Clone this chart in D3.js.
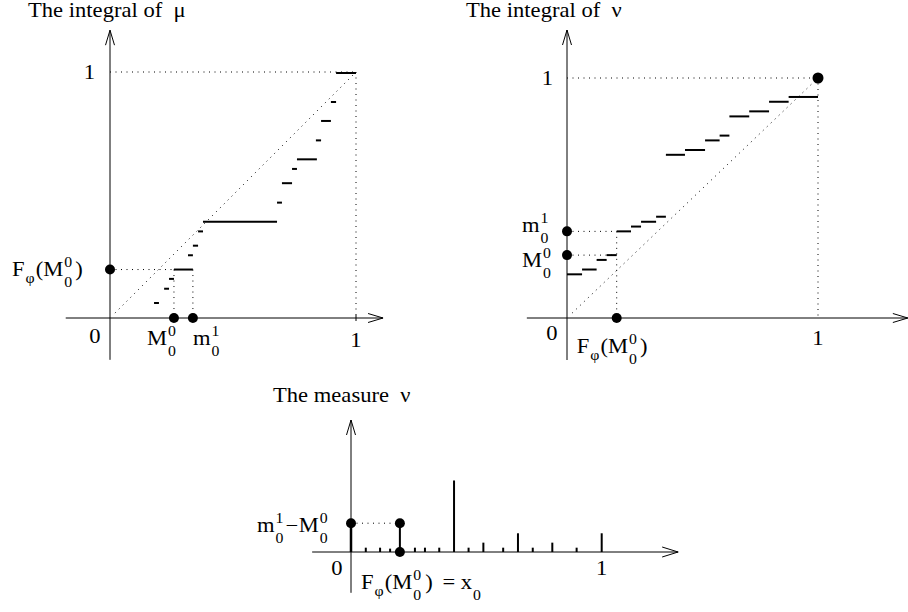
<!DOCTYPE html>
<html>
<head>
<meta charset="utf-8">
<script src="https://cdn.jsdelivr.net/npm/d3@7"></script>
<style>
  body { margin: 0; background: #fff; }
  text { font-family: "Liberation Serif", "Times New Roman", serif; fill: #000; }
  .lbl { font-size: 20px; }
  .scr { font-size: 14px; }
</style>
</head>
<body>
<svg id="fig" width="908" height="612"></svg>
<script>
// integral of mu: horizontal pieces [x0, x1, y]
const muSteps = [
    [0.179, 0.199, 0.061], [0.220, 0.240, 0.119], [0.240, 0.260, 0.159],
    [0.260, 0.337, 0.197], [0.317, 0.337, 0.255], [0.337, 0.358, 0.294],
    [0.358, 0.378, 0.352], [0.378, 0.679, 0.391], [0.679, 0.699, 0.469],
    [0.699, 0.740, 0.548], [0.740, 0.760, 0.606], [0.760, 0.841, 0.645],
    [0.837, 0.858, 0.722], [0.858, 0.898, 0.801], [0.898, 0.919, 0.878],
    [0.919, 1.000, 0.996]
];
const muMarks = { M00: 0.260, m01: 0.337, F: 0.197 };

// integral of nu: horizontal pieces [x0, x1, y]
const nuSteps = [
    [0.000, 0.060, 0.182], [0.060, 0.118, 0.202], [0.118, 0.158, 0.242],
    [0.158, 0.198, 0.262], [0.198, 0.255, 0.361], [0.255, 0.295, 0.381],
    [0.295, 0.355, 0.401], [0.355, 0.394, 0.422], [0.394, 0.470, 0.680],
    [0.470, 0.550, 0.700], [0.550, 0.608, 0.740], [0.608, 0.647, 0.760],
    [0.647, 0.726, 0.840], [0.726, 0.805, 0.861], [0.805, 0.883, 0.901],
    [0.883, 1.000, 0.921]
];
const nuMarks = { F: 0.198, M00: 0.262, m01: 0.361 };

// the measure nu: atoms [x, mass]
const nuAtoms = [
    [0.059, 0.018], [0.116, 0.018], [0.156, 0.014], [0.255, 0.018],
    [0.295, 0.018], [0.352, 0.018], [0.411, 0.298], [0.469, 0.018],
    [0.528, 0.039], [0.607, 0.018], [0.666, 0.078], [0.725, 0.018],
    [0.803, 0.039], [0.900, 0.018], [1.000, 0.078]
];
const x0 = 0.195;
const jump = 0.12; // m01 - M00

const SX = 1.13; // the figure's lettering is a bit wider than Times

const svg = d3.select("#fig");

function axisArrow(g, x1, y1, x2, y2, len, half) {
    g.append("line").attr("x1", x1).attr("y1", y1).attr("x2", x2).attr("y2", y2)
        .attr("stroke", "#000").attr("stroke-width", 1);
    const a = Math.atan2(y2 - y1, x2 - x1);
    const bx = x2 - len * Math.cos(a), by = y2 - len * Math.sin(a);
    const px = -Math.sin(a) * half, py = Math.cos(a) * half;
    g.append("polyline")
        .attr("points", [[bx + px, by + py], [x2, y2], [bx - px, by - py]].map(p => p.join(",")).join(" "))
        .attr("fill", "none").attr("stroke", "#000").attr("stroke-width", 1);
}

function dotted(g, x1, y1, x2, y2) {
    g.append("line").attr("x1", x1).attr("y1", y1).attr("x2", x2).attr("y2", y2)
        .attr("stroke", "#000").attr("stroke-width", 1).attr("stroke-dasharray", "1,4.5");
}

function dot(g, x, y) {
    g.append("circle").attr("cx", x).attr("cy", y).attr("r", 5).attr("fill", "#000");
}

function txt(g, x, y, s, cls, anchor) {
    return g.append("text").attr("class", cls || "lbl")
        .attr("transform", "translate(" + x + "," + y + ") scale(" + SX + ",1)")
        .attr("text-anchor", anchor || "start").attr("xml:space", "preserve").text(s);
}

// base glyphs with stacked sub / superscripts, advanced by measured widths
function mathLabel(g, x, y, parts) {
    let cx = x;
    parts.forEach(p => {
        cx += p.dx || 0;
        const t = txt(g, cx, y, p.t);
        cx += t.node().getComputedTextLength() * SX;
        let w = 0;
        if (p.sup) {
            const s = txt(g, cx + 1, y - 9, p.sup, "scr");
            w = Math.max(w, s.node().getComputedTextLength() * SX + 1);
        }
        if (p.sub) {
            const s = txt(g, cx + 1, y + (p.subDy || 11), p.sub, "scr");
            w = Math.max(w, s.node().getComputedTextLength() * SX + 1);
        }
        cx += w;
    });
}

const Fphi = [{ t: "F", sub: "φ", subDy: 7 }, { t: "(", dx: 1 }, { t: "M", sub: "0", sup: "0" }, { t: ")", dx: 3 }];

// ---------- The integral of mu ----------
const gA = svg.append("g");
const ax = d3.scaleLinear().domain([0, 1]).range([110, 356]);
const ay = d3.scaleLinear().domain([0, 1]).range([318, 72]);

txt(gA, 28, 17, "The integral of  μ");

dotted(gA, ax(0), ay(1), ax(1), ay(1));
dotted(gA, ax(1), ay(1), ax(1), ay(0));
dotted(gA, ax(0.02), ay(0.02), ax(1), ay(1));
dotted(gA, ax(0), ay(muMarks.F), ax(muMarks.M00), ay(muMarks.F));
dotted(gA, ax(muMarks.M00), ay(muMarks.F), ax(muMarks.M00), ay(0));
dotted(gA, ax(muMarks.m01), ay(muMarks.F), ax(muMarks.m01), ay(0));

axisArrow(gA, ax(-0.18), ay(0), ax(1.11), ay(0), 15, 4.5);
axisArrow(gA, ax(0), ay(-0.17), ax(0), ay(1.17), 15, 4.5);
gA.append("line").attr("x1", ax(1)).attr("x2", ax(1)).attr("y1", ay(0) - 3).attr("y2", ay(0) + 3)
    .attr("stroke", "#000");

gA.selectAll(".step").data(muSteps).join("line").attr("class", "step")
    .attr("x1", d => ax(d[0])).attr("x2", d => ax(d[1]))
    .attr("y1", d => ay(d[2])).attr("y2", d => ay(d[2]))
    .attr("stroke", "#000").attr("stroke-width", 2);

dot(gA, ax(0), ay(muMarks.F));
dot(gA, ax(muMarks.M00), ay(0));
dot(gA, ax(muMarks.m01), ay(0));

txt(gA, ax(0) - 15, ay(0) + 25, "0", "lbl", "middle");
txt(gA, ax(1), ay(0) + 29, "1", "lbl", "middle");
txt(gA, ax(0) - 15, ay(1) + 7, "1", "lbl", "end");
mathLabel(gA, 12, ay(muMarks.F) + 6, Fphi);
mathLabel(gA, ax(muMarks.M00) - 27, ay(0) + 27, [{ t: "M", sub: "0", sup: "0" }]);
mathLabel(gA, ax(muMarks.m01), ay(0) + 27, [{ t: "m", sub: "0", sup: "1" }]);

// ---------- The integral of nu ----------
const gB = svg.append("g");
const bx = d3.scaleLinear().domain([0, 1]).range([567, 818]);
const by = d3.scaleLinear().domain([0, 1]).range([318, 78]);

txt(gB, 466, 17, "The integral of  ν");

dotted(gB, bx(0), by(1), bx(1), by(1));
dotted(gB, bx(1), by(1), bx(1), by(0));
dotted(gB, bx(0.02), by(0.02), bx(1), by(1));
dotted(gB, bx(0), by(nuMarks.m01), bx(nuMarks.F), by(nuMarks.m01));
dotted(gB, bx(0), by(nuMarks.M00), bx(nuMarks.F), by(nuMarks.M00));
dotted(gB, bx(nuMarks.F), by(nuMarks.m01), bx(nuMarks.F), by(0));

axisArrow(gB, bx(-0.16), by(0), bx(1.358), by(0), 15, 4.5);
axisArrow(gB, bx(0), by(-0.175), bx(0), by(1.2), 15, 4.5);

gB.selectAll(".step").data(nuSteps).join("line").attr("class", "step")
    .attr("x1", d => bx(d[0])).attr("x2", d => bx(d[1]))
    .attr("y1", d => by(d[2])).attr("y2", d => by(d[2]))
    .attr("stroke", "#000").attr("stroke-width", 2);

dot(gB, bx(0), by(nuMarks.m01));
dot(gB, bx(0), by(nuMarks.M00));
dot(gB, bx(nuMarks.F), by(0));
gB.append("circle").attr("cx", bx(1)).attr("cy", by(1)).attr("r", 5.5).attr("fill", "#000");

txt(gB, bx(0) - 15, by(0) + 22, "0", "lbl", "middle");
txt(gB, bx(1), by(0) + 27, "1", "lbl", "middle");
txt(gB, bx(0) - 14, by(1) + 7, "1", "lbl", "end");
mathLabel(gB, 522, by(nuMarks.m01) + 1, [{ t: "m", sub: "0", sup: "1" }]);
mathLabel(gB, 522, by(nuMarks.M00) + 12, [{ t: "M", sub: "0", sup: "0" }]);
mathLabel(gB, bx(nuMarks.F) - 40, by(0) + 35, Fphi);

// ---------- The measure nu ----------
const gC = svg.append("g");
const cx = d3.scaleLinear().domain([0, 1]).range([351, 601.7]);
const cy = d3.scaleLinear().domain([0, 1]).range([552, 312]);

txt(gC, 273, 402, "The measure  ν");

axisArrow(gC, cx(-0.155), cy(0), cx(1.305), cy(0), 16, 5);
axisArrow(gC, cx(0), cy(-0.17), cx(0), cy(0.55), 15, 4.5);

gC.selectAll(".atom").data(nuAtoms).join("line").attr("class", "atom")
    .attr("x1", d => cx(d[0])).attr("x2", d => cx(d[0]))
    .attr("y1", cy(0)).attr("y2", d => cy(d[1]))
    .attr("stroke", "#000").attr("stroke-width", 2);

gC.append("line").attr("x1", cx(0)).attr("x2", cx(0)).attr("y1", cy(0)).attr("y2", cy(jump))
    .attr("stroke", "#000").attr("stroke-width", 2.5);
gC.append("line").attr("x1", cx(x0)).attr("x2", cx(x0)).attr("y1", cy(0)).attr("y2", cy(jump))
    .attr("stroke", "#000").attr("stroke-width", 2);
dotted(gC, cx(0), cy(jump), cx(x0), cy(jump));
dot(gC, cx(0), cy(jump));
dot(gC, cx(x0), cy(jump));
dot(gC, cx(x0), cy(0));

txt(gC, cx(0) - 14, cy(0) + 23, "0", "lbl", "middle");
txt(gC, cx(1), cy(0) + 23, "1", "lbl", "middle");
mathLabel(gC, 257, cy(jump) + 9, [{ t: "m", sub: "0", sup: "1" }, { t: "−", dx: 2 }, { t: "M", sub: "0", sup: "0", dx: 0.5 }]);
mathLabel(gC, 361, cy(0) + 37, [{ t: "F", sub: "φ", subDy: 7 }, { t: "(", dx: 1 }, { t: "M", sub: "0", sup: "0" },
    { t: ")", dx: 4 }, { t: " = x", sub: "0", dx: 4 }]);
</script>
</body>
</html>
